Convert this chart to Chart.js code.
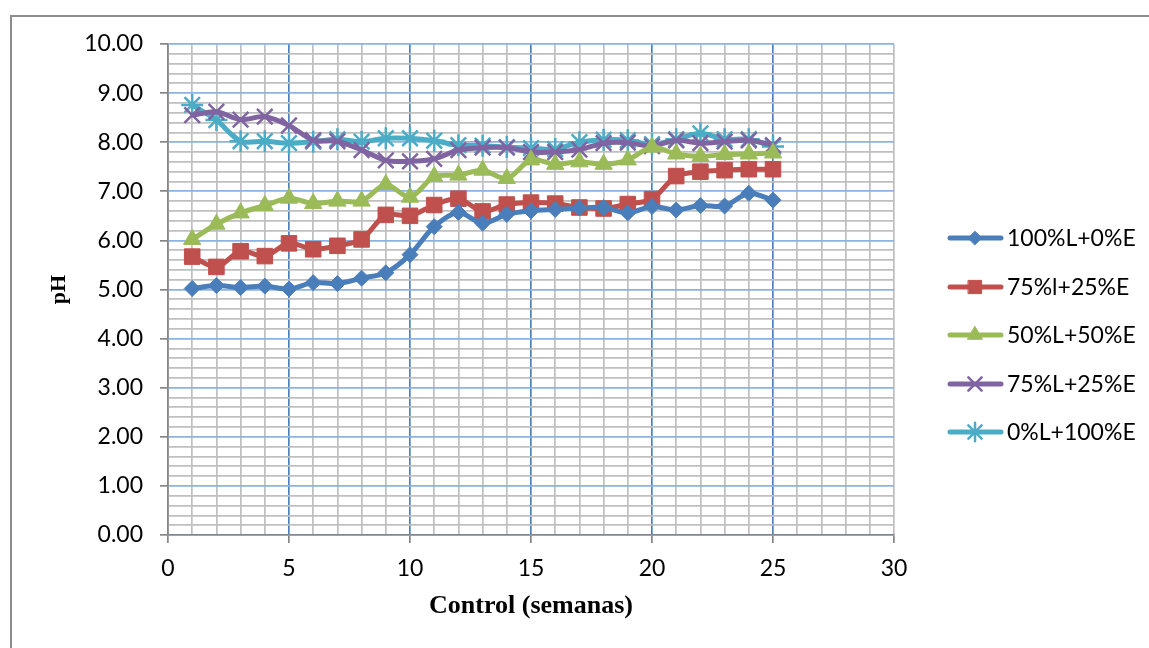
<!DOCTYPE html>
<html>
<head>
<meta charset="utf-8">
<script src="https://cdn.jsdelivr.net/npm/chart.js@4/dist/chart.umd.min.js"></script>
<style>
  html, body { margin: 0; padding: 0; background: #ffffff; }
  #wrap { position: relative; width: 1149px; height: 648px; overflow: hidden; }
  #frame { position: absolute; left: 10px; top: 15px; width: 1200px; height: 700px;
           border-left: 2px solid #8c8c8c; border-top: 2px solid #8c8c8c; box-sizing: border-box; }
  #chart { position: absolute; left: 0; top: 0; }
</style>
</head>
<body>
<div id="wrap">
  <div id="frame"></div>
  <canvas id="chart" width="1149" height="648"></canvas>
</div>
<script>
// Weekly pH readings for each mixture
const weeks = [1, 2, 3, 4, 5, 6, 7, 8, 9, 10, 11, 12, 13, 14, 15, 16, 17, 18, 19, 20, 21, 22, 23, 24, 25];
const seriesNames = ['100%L+0%E', '75%l+25%E', '50%L+50%E', '75%L+25%E', '0%L+100%E'];
const ph100L0E = [5.02, 5.08, 5.04, 5.07, 5.01, 5.14, 5.12, 5.23, 5.34, 5.71, 6.28, 6.57, 6.35, 6.53, 6.60, 6.63, 6.66, 6.67, 6.56, 6.69, 6.62, 6.71, 6.70, 6.96, 6.82];
const ph75l25E = [5.67, 5.46, 5.78, 5.68, 5.94, 5.82, 5.89, 6.02, 6.52, 6.50, 6.72, 6.85, 6.59, 6.73, 6.77, 6.75, 6.67, 6.65, 6.74, 6.84, 7.31, 7.40, 7.43, 7.45, 7.45];
const ph50L50E = [6.02, 6.33, 6.56, 6.71, 6.86, 6.75, 6.80, 6.80, 7.14, 6.88, 7.30, 7.33, 7.43, 7.26, 7.64, 7.55, 7.60, 7.55, 7.64, 7.90, 7.76, 7.71, 7.75, 7.76, 7.78];
const ph75L25E = [8.55, 8.62, 8.46, 8.52, 8.34, 8.04, 8.02, 7.84, 7.63, 7.61, 7.66, 7.84, 7.89, 7.89, 7.80, 7.80, 7.85, 7.98, 7.99, 7.92, 8.04, 7.98, 8.01, 8.04, 7.94];
const ph0L100E = [8.76, 8.45, 8.02, 8.02, 7.98, 8.01, 8.06, 8.01, 8.08, 8.08, 8.03, 7.94, 7.93, 7.90, 7.88, 7.86, 8.00, 8.05, 8.04, 7.96, 8.06, 8.18, 8.06, 8.06, 7.91];

const xAxisTitle = 'Control (semanas)';
const yAxisTitle = 'pH';

const tickFont = { family: 'Lato, "Open Sans", sans-serif', size: 23 };

const styles = [
  { color: '#4a7ebb', pointStyle: 'rectRot', radius: 8, bw: 1 },
  { color: '#c0504d', pointStyle: 'rect', radius: 11, bw: 1 },
  { color: '#9bbb59', pointStyle: 'triangle', radius: 10, bw: 1 },
  { color: '#8064a2', pointStyle: 'crossRot', radius: 11, bw: 2.5 },
  { color: '#4bacc6', pointStyle: 'star', radius: 11, bw: 2.5 }
];
const values = [ph100L0E, ph75l25E, ph50L50E, ph75L25E, ph0L100E];

const datasets = values.map((vals, i) => ({
  label: seriesNames[i],
  data: weeks.map((w, j) => ({ x: w, y: vals[j] })),
  borderColor: styles[i].color,
  backgroundColor: styles[i].color,
  borderWidth: 5,
  tension: 0.3,
  pointStyle: styles[i].pointStyle,
  pointRadius: styles[i].radius,
  pointHoverRadius: styles[i].radius,
  pointBackgroundColor: styles[i].color,
  pointBorderColor: styles[i].color,
  pointBorderWidth: styles[i].bw
}));

const isInt = v => Math.abs(v - Math.round(v)) < 1e-6;

// Legend drawn on the right: line segment with the series marker, then the name
const sideLegend = {
  id: 'sideLegend',
  afterDraw(chart) {
    const ctx = chart.ctx;
    const rowY = [238, 287, 335, 384, 432];
    ctx.save();
    chart.data.datasets.forEach((ds, i) => {
      const y = rowY[i];
      ctx.strokeStyle = ds.borderColor;
      ctx.lineWidth = 5;
      ctx.lineCap = 'round';
      ctx.beginPath();
      ctx.moveTo(950, y);
      ctx.lineTo(1001, y);
      ctx.stroke();
      ctx.fillStyle = ds.pointBackgroundColor;
      ctx.strokeStyle = ds.pointBorderColor;
      ctx.lineWidth = ds.pointBorderWidth;
      Chart.helpers.drawPoint(ctx, { pointStyle: ds.pointStyle, radius: ds.pointRadius * 0.85, borderWidth: ds.pointBorderWidth, rotation: 0 }, 975, y);
      ctx.fillStyle = '#000000';
      ctx.font = '23px Lato, "Open Sans", sans-serif';
      ctx.textBaseline = 'middle';
      ctx.textAlign = 'left';
      ctx.fillText(ds.label, 1007, y + 1);
    });
    ctx.restore();
  }
};

new Chart(document.getElementById('chart'), {
  type: 'line',
  data: { datasets },
  options: {
    responsive: false,
    animation: false,
    layout: { padding: { left: 0, top: 44, right: 255, bottom: 0 } },
    plugins: { legend: { display: false }, tooltip: { enabled: false } },
    scales: {
      x: {
        type: 'linear',
        min: 0,
        max: 30,
        afterFit(scale) { scale.height = 113; },
        ticks: {
          stepSize: 1,
          autoSkip: false,
          maxRotation: 0,
          padding: 12,
          color: '#000000',
          font: tickFont,
          callback: v => (isInt(v) && Math.round(v) % 5 === 0) ? String(Math.round(v)) : ''
        },
        grid: {
          drawOnChartArea: true,
          tickLength: 8,
          lineWidth: 1.7,
          color: c => {
            const v = Math.round(c.tick.value);
            if (v === 0) return '#868686';
            return (v % 5 === 0 && v !== 30) ? '#4f81bd' : '#bfbfbf';
          },
          tickColor: c => (Math.round(c.tick.value) % 5 === 0) ? '#868686' : 'rgba(0,0,0,0)'
        },
        border: { color: '#868686', width: 1.5 },
        title: {
          display: true,
          text: xAxisTitle,
          color: '#000000',
          font: { family: '"Liberation Serif", "Times New Roman", serif', size: 26, weight: 'bold' },
          padding: { top: 0, bottom: 26 }
        }
      },
      y: {
        type: 'linear',
        min: 0,
        max: 10,
        afterFit(scale) { scale.width = 168; },
        ticks: {
          stepSize: 0.2,
          autoSkip: false,
          padding: 17,
          color: '#000000',
          font: tickFont,
          callback: v => isInt(v) ? Number(v).toFixed(2) : ''
        },
        grid: {
          tickLength: 8,
          lineWidth: 1.7,
          color: c => isInt(c.tick.value) ? '#8db3e2' : '#bfbfbf',
          tickColor: c => isInt(c.tick.value) ? '#868686' : 'rgba(0,0,0,0)'
        },
        border: { color: '#868686', width: 1.5 },
        title: {
          display: true,
          text: yAxisTitle,
          color: '#000000',
          font: { family: '"Liberation Serif", "Times New Roman", serif', size: 22, weight: 'bold' },
          padding: { top: 46, bottom: 0 }
        }
      }
    }
  },
  plugins: [sideLegend]
});
</script>
</body>
</html>
